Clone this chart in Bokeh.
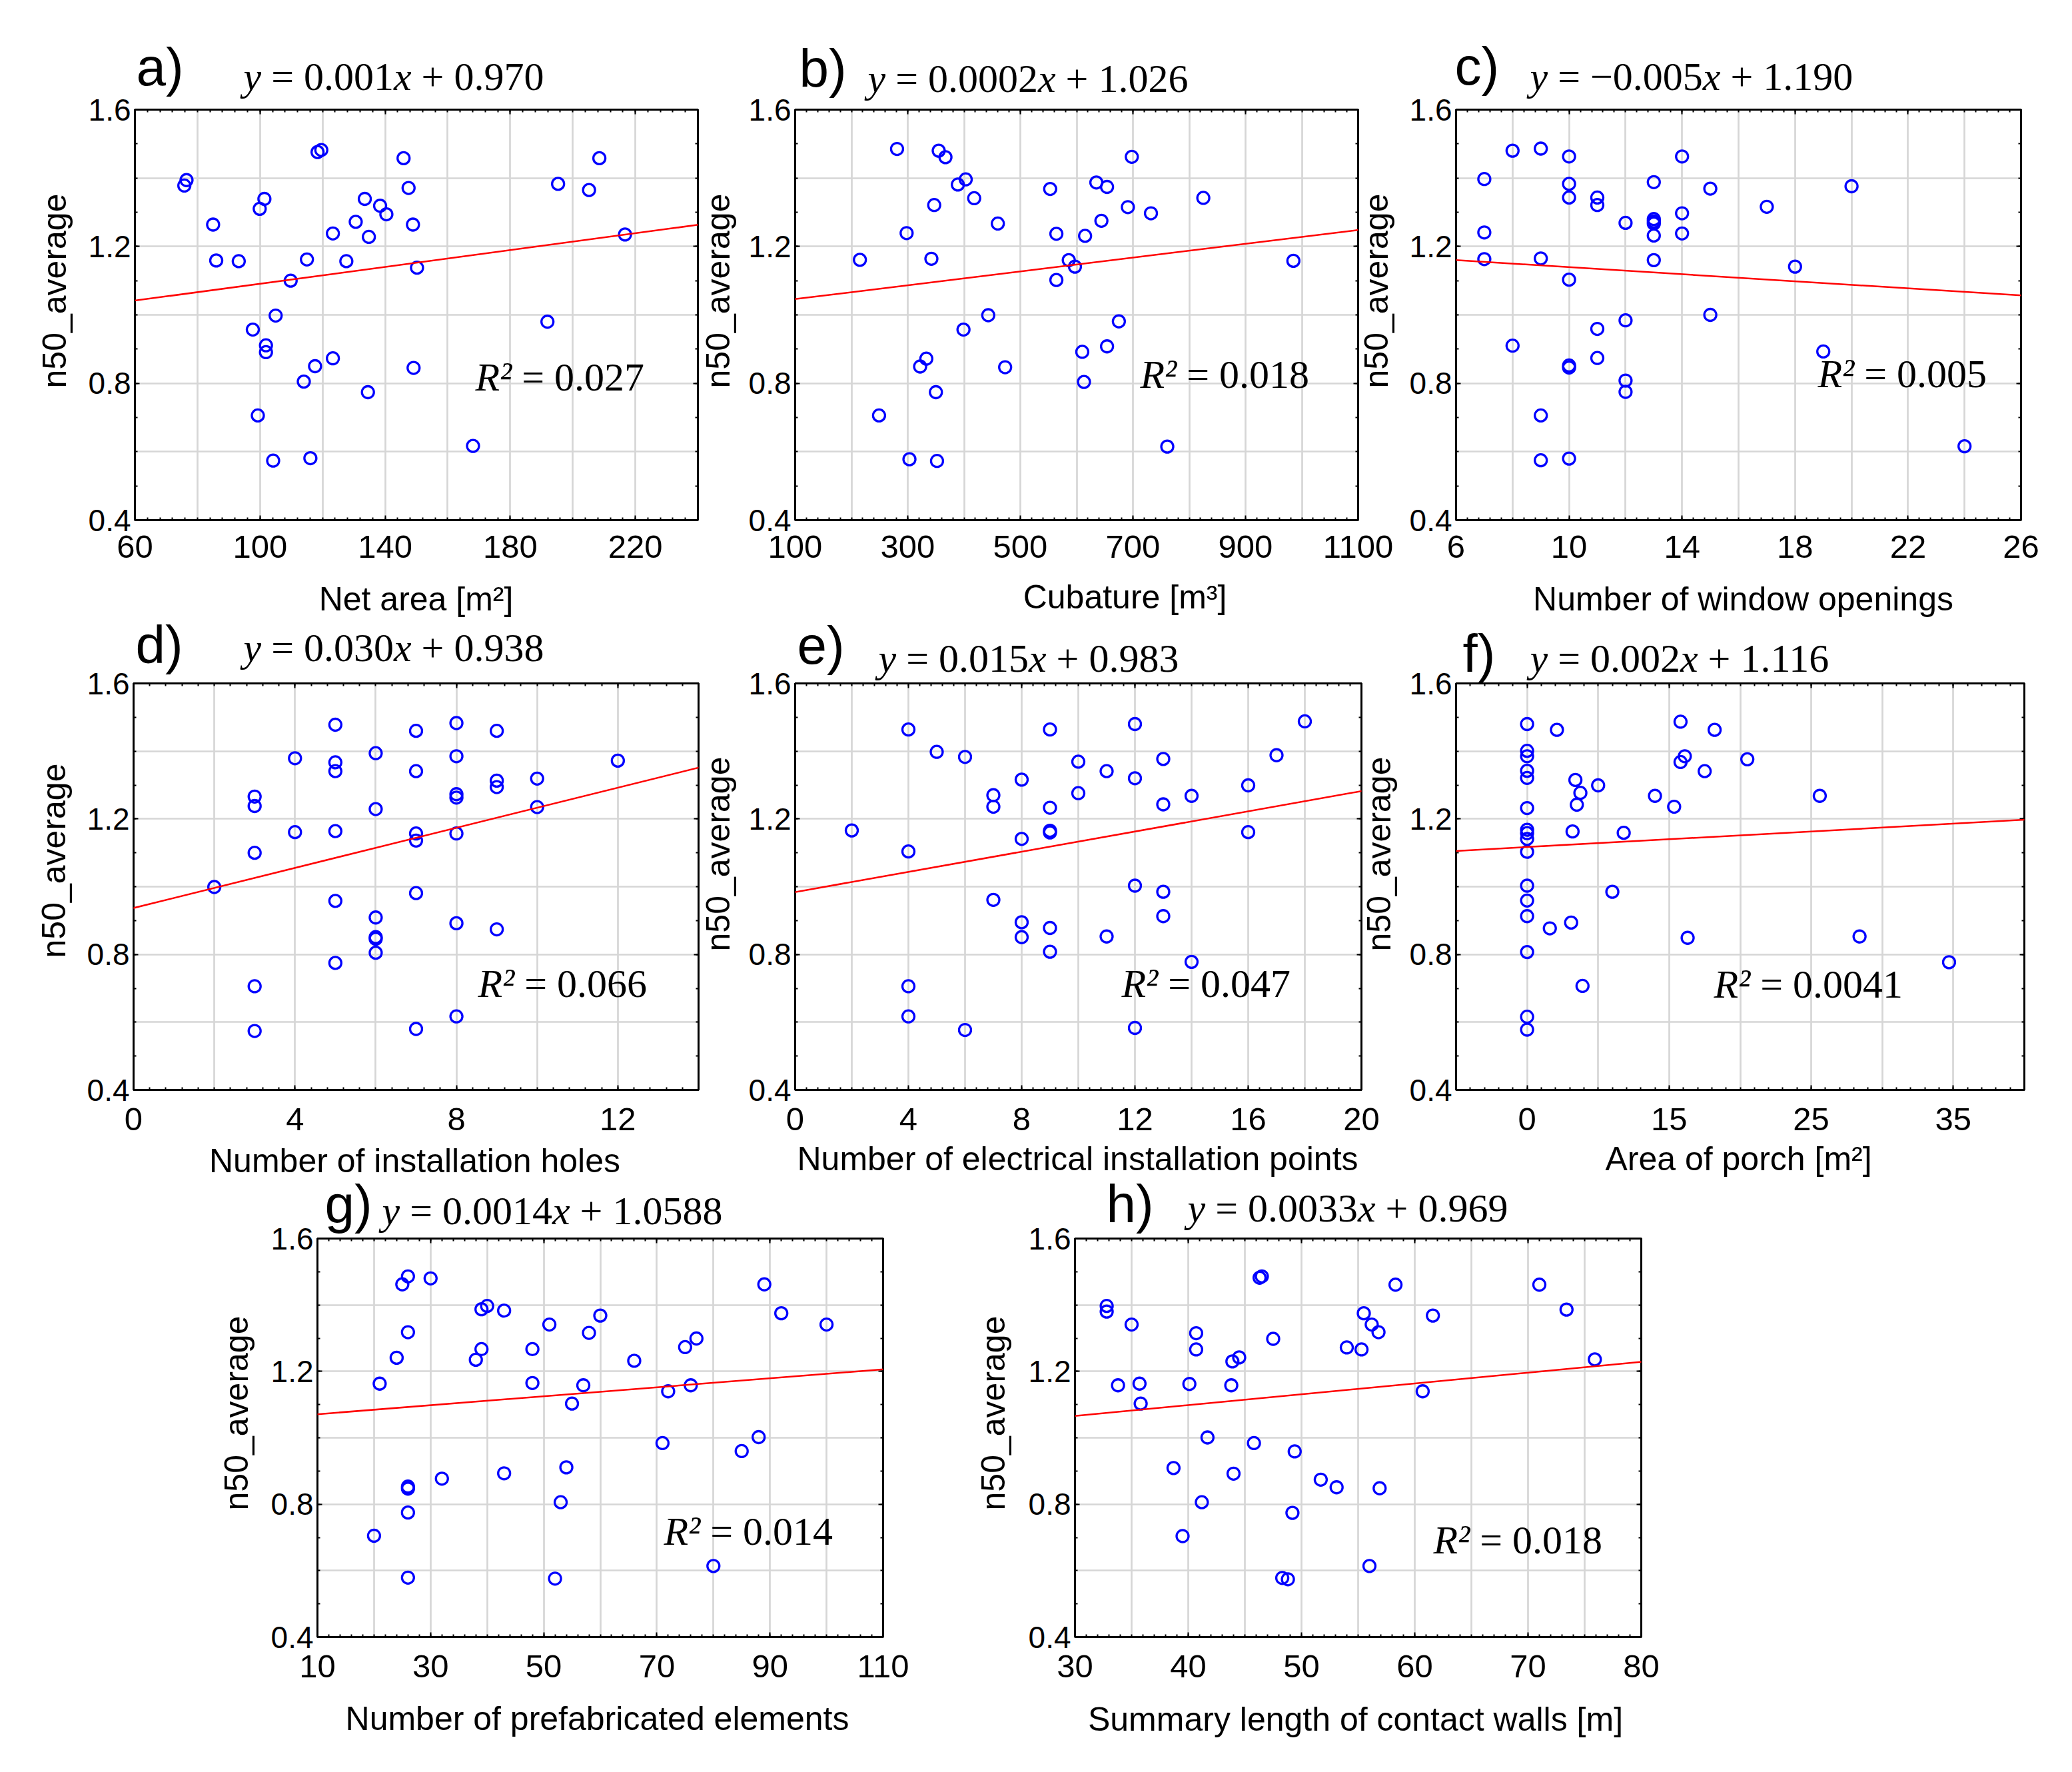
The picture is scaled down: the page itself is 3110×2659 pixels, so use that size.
import numpy as np
from bokeh.plotting import figure
from bokeh.models import Label, Slope, FixedTicker, LinearAxis, Range1d
from bokeh.layouts import row, column
from bokeh.embed import file_html
from bokeh.resources import INLINE

SANS = "Liberation Sans"
SERIF = "Liberation Serif"

# ---------------- data ----------------
y_ticks = [0.4, 0.8, 1.2, 1.6]
y_axis_label = "n50_average"

# a) net area
a_x = [75.8, 76.5, 85.0, 86.0, 93.2, 97.7, 99.9, 101.4, 101.9, 101.9, 99.3, 104.2, 105.0, 109.8,
       114.0, 115.0, 116.1, 117.6, 118.4, 119.6, 123.3, 123.3, 127.6, 130.6, 133.5, 134.8, 134.5,
       138.4, 140.4, 145.9, 147.5, 148.9, 149.1, 150.2, 168.1, 191.9, 195.3, 205.2, 208.5, 216.7]
a_y = [1.378, 1.394, 1.264, 1.159, 1.157, 0.957, 1.310, 1.339, 0.911, 0.891, 0.706, 0.574, 0.998,
       1.100, 0.805, 1.162, 0.581, 0.850, 1.476, 1.482, 1.238, 0.873, 1.157, 1.272, 1.339, 1.228,
       0.774, 1.319, 1.294, 1.458, 1.371, 1.264, 0.845, 1.138, 0.617, 0.980, 1.383, 1.365, 1.458, 1.235]
a_fit = [0.00123, 0.968]
a_eq = ["0.001", "0.970"]
a_r2 = "0.027"
a_xticks = [60, 100, 140, 180, 220]
a_xticklabels = ["60", "100", "140", "180", "220"]
a_xlabel = "Net area [m²]"

# b) cubature
b_x = [215, 249, 281, 298, 303, 322, 333, 342, 347, 350, 352, 355, 367, 389, 399, 403, 418, 443,
       460, 473, 553, 564, 564, 586, 597, 610, 613, 615, 635, 644, 654, 654, 675, 691, 698, 732,
       761, 825, 985]
b_y = [1.161, 0.706, 1.485, 1.239, 0.578, 0.849, 0.872, 1.164, 1.321, 0.774, 0.573, 1.480, 1.461,
       1.381, 0.957, 1.396, 1.341, 0.999, 1.267, 0.847, 1.368, 1.237, 1.102, 1.160, 1.141, 0.892,
       0.804, 1.231, 1.387, 1.275, 1.374, 0.908, 0.981, 1.315, 1.462, 1.297, 0.615, 1.342, 1.158]
b_fit = [0.000202, 1.026]
b_eq = ["0.0002", "1.026"]
b_r2 = "0.018"
b_xticks = [100, 300, 500, 700, 900, 1100]
b_xticklabels = ["100", "300", "500", "700", "900", "1100"]
b_xlabel = "Cubature [m³]"

# c) window openings
c_x = [7, 7, 7, 8, 8, 9, 9, 9, 9, 10, 10, 10, 10, 10, 10, 10, 11, 11, 11, 11, 12, 12, 12, 12,
       13, 13, 13, 13, 13, 13, 14, 14, 14, 15, 15, 17, 18, 19, 20, 24]
c_y = [1.397, 1.241, 1.163, 1.480, 0.910, 1.486, 1.165, 0.706, 0.575, 1.463, 1.383, 1.343, 1.103,
       0.852, 0.846, 0.580, 1.343, 1.321, 0.959, 0.874, 1.269, 0.984, 0.808, 0.775, 1.388, 1.280,
       1.273, 1.267, 1.232, 1.160, 1.463, 1.297, 1.238, 1.369, 1.000, 1.316, 1.141, 0.893, 1.376, 0.616]
c_fit = [-0.00515, 1.191]
c_eq = ["\u22120.005", "1.190"]
c_r2 = "0.005"
c_xticks = [6, 10, 14, 18, 22, 26]
c_xticklabels = ["6", "10", "14", "18", "22", "26"]
c_xlabel = "Number of window openings"

# d) installation holes
d_x = [2, 3, 3, 3, 3, 3, 4, 4, 5, 5, 5, 5, 5, 5, 6, 6, 6, 6, 6, 6, 7, 7, 7, 7, 7, 7,
       8, 8, 8, 8, 8, 8, 8, 9, 9, 9, 9, 10, 10, 12]
d_y = [0.999, 1.266, 1.238, 1.100, 0.706, 0.574, 1.379, 1.161, 1.478, 1.367, 1.341, 1.164, 0.958,
       0.775, 1.394, 1.229, 0.909, 0.851, 0.846, 0.805, 1.460, 1.341, 1.157, 1.136, 0.981, 0.580,
       1.483, 1.385, 1.273, 1.263, 1.157, 0.892, 0.617, 1.460, 1.313, 1.294, 0.874, 1.319, 1.235, 1.372]
d_fit = [0.0296, 0.937]
d_eq = ["0.030", "0.938"]
d_r2 = "0.066"
d_xticks = [0, 4, 8, 12]
d_xticklabels = ["0", "4", "8", "12"]
d_xlabel = "Number of installation holes"

# e) electrical installation points
e_x = [2, 4, 4, 4, 4, 5, 6, 6, 7, 7, 7, 8, 8, 8, 8, 9, 9, 9, 9, 9, 9, 10, 10, 11, 11,
       12, 12, 12, 12, 13, 13, 13, 13, 14, 14, 16, 16, 17, 18]
e_y = [1.166, 1.464, 1.104, 0.706, 0.617, 1.398, 1.383, 0.577, 1.270, 1.236, 0.961, 1.316, 1.141,
       0.895, 0.851, 1.464, 1.233, 1.165, 1.160, 0.878, 0.808, 1.369, 1.276, 1.341, 0.853, 1.480,
       1.320, 1.003, 0.583, 1.377, 1.243, 0.985, 0.913, 1.268, 0.778, 1.299, 1.161, 1.388, 1.488]
e_fit = [0.0149, 0.984]
e_eq = ["0.015", "0.983"]
e_r2 = "0.047"
e_xticks = [0, 4, 8, 12, 16, 20]
e_xticklabels = ["0", "4", "8", "12", "16", "20"]
e_xlabel = "Number of electrical installation points"

# f) area of porch
f_x = [0, 0, 0, 0, 0, 0, 0, 0, 0, 0, 0, 0, 0, 0, 0, 0,
       1.6, 2.1, 3.1, 3.2, 3.4, 3.5, 3.75, 3.9, 5.0, 6.0, 6.8, 9.0, 10.35, 10.8, 10.8, 11.1,
       11.3, 12.5, 13.2, 15.5, 20.6, 23.4, 29.7]
f_y = [1.480, 1.401, 1.385, 1.342, 1.321, 1.232, 1.168, 1.158, 1.141, 1.103, 1.003, 0.959, 0.913,
       0.807, 0.616, 0.578, 0.877, 1.463, 0.894, 1.163, 1.315, 1.242, 1.277, 0.707, 1.299, 0.985,
       1.159, 1.268, 1.236, 1.368, 1.487, 1.385, 0.849, 1.341, 1.463, 1.376, 1.268, 0.853, 0.777]
f_fit = [0.0023, 1.117]
f_eq = ["0.002", "1.116"]
f_r2 = "0.0041"
f_xticks = [0, 10, 20, 30]
f_xticklabels = ["0", "15", "25", "35"]
f_xlabel = "Area of porch [m²]"

# g) prefabricated elements
g_x = [20, 21, 24, 25, 26, 26, 26, 26, 26, 26, 30, 32, 38, 39, 39, 40, 43, 43, 48, 48,
       51, 52, 53, 54, 55, 57, 58, 60, 66, 71, 72, 75, 76, 77, 80, 85, 88, 89, 92, 100]
g_y = [0.705, 1.163, 1.241, 1.462, 1.486, 1.318, 0.853, 0.847, 0.775, 0.579, 1.480, 0.877, 1.235,
       1.387, 1.267, 1.397, 1.383, 0.893, 1.267, 1.165, 1.341, 0.576, 0.806, 0.911, 1.103, 1.158,
       1.316, 1.368, 1.232, 0.984, 1.140, 1.273, 1.158, 1.299, 0.614, 0.960, 1.002, 1.462, 1.375, 1.341]
g_fit = [0.00135, 1.0575]
g_eq = ["0.0014", "1.0588"]
g_r2 = "0.014"
g_xticks = [10, 30, 50, 70, 90, 110]
g_xticklabels = ["10", "30", "50", "70", "90", "110"]
g_xlabel = "Number of prefabricated elements"

# h) contact walls
h_x = [32.8, 32.8, 33.8, 35.0, 35.7, 35.8, 38.7, 39.5, 40.1, 40.7, 40.7, 41.2, 41.7, 43.8, 43.9,
       44.0, 44.5, 45.8, 46.3, 46.5, 47.5, 48.3, 48.8, 49.2, 49.4, 51.7, 53.1, 54.0, 55.3, 55.5,
       56.2, 56.0, 56.8, 56.9, 58.3, 60.7, 61.6, 71.0, 73.4, 75.9]
h_y = [1.397, 1.380, 1.158, 1.341, 1.163, 1.103, 0.909, 0.704, 1.162, 1.315, 1.266, 0.806, 1.001,
       1.158, 1.230, 0.892, 1.242, 0.984, 1.482, 1.486, 1.298, 0.578, 0.574, 0.774, 0.959, 0.874,
       0.851, 1.272, 1.266, 1.375, 1.341, 0.614, 1.318, 0.848, 1.461, 1.140, 1.368, 1.461, 1.386, 1.236]
h_fit = [0.00326, 0.968]
h_eq = ["0.0033", "0.969"]
h_r2 = "0.018"
h_xticks = [30, 40, 50, 60, 70, 80]
h_xticklabels = ["30", "40", "50", "60", "70", "80"]
h_xlabel = "Summary length of contact walls [m]"

# ---------------- styling / layout ----------------
# w/h/b*: figure size and borders (px); tagp/eqp/xlp: text baselines in page px;
# ylp: centre of the rotated y label in page px; r2p: baseline relative to the frame (px)
PANELS = [
    dict(tag="a)", x=a_x, y=a_y, fit=a_fit, eq=a_eq, r2=a_r2, xt=a_xticks, xtl=a_xticklabels,
         xl=a_xlabel, xr=(60, 240), grid=20, minor=4,
         w=1077, h=980, bl=202, br=30, bt=164, bb=200, xstand=23,
         tagp=(204, 128), eqp=(365, 135), xlp=(624, 916), ylp=(81, 436), r2p=(511, 194)),
    dict(tag="b)", x=b_x, y=b_y, fit=b_fit, eq=b_eq, r2=b_r2, xt=b_xticks, xtl=b_xticklabels,
         xl=b_xlabel, xr=(100, 1100), grid=100, minor=20,
         w=1070, h=980, bl=163, br=62, bt=164, bb=200, xstand=23,
         tagp=(1199, 130), eqp=(1302, 138), xlp=(1688, 913), ylp=(1077, 436), r2p=(518, 198)),
    dict(tag="c)", x=c_x, y=c_y, fit=c_fit, eq=c_eq, r2=c_r2, xt=c_xticks, xtl=c_xticklabels,
         xl=c_xlabel, xr=(6, 26), grid=2, minor=0.4,
         w=1060, h=980, bl=165, br=47, bt=164, bb=200, xstand=23,
         tagp=(2183, 127), eqp=(2296, 135), xlp=(2616, 916), ylp=(2065, 436), r2p=(543, 199)),
    dict(tag="d)", x=d_x, y=d_y, fit=d_fit, eq=d_eq, r2=d_r2, xt=d_xticks, xtl=d_xticklabels,
         xl=d_xlabel, xr=(0, 14), grid=2, minor=0.4,
         w=1077, h=907, bl=200, br=29, bt=95, bb=200, xstand=27,
         tagp=(203, 995), eqp=(365, 992), xlp=(622, 1759), ylp=(80, 1291), r2p=(517, 139)),
    dict(tag="e)", x=e_x, y=e_y, fit=e_fit, eq=e_eq, r2=e_r2, xt=e_xticks, xtl=e_xticklabels,
         xl=e_xlabel, xr=(0, 20), grid=2, minor=0.4,
         w=1070, h=907, bl=163, br=57, bt=95, bb=200, xstand=27,
         tagp=(1196, 996), eqp=(1318, 1008), xlp=(1617, 1756), ylp=(1077, 1281), r2p=(490, 139)),
    dict(tag="f)", x=f_x, y=f_y, fit=f_fit, eq=f_eq, r2=f_r2, xt=f_xticks, xtl=f_xticklabels,
         xl=f_xlabel, xr=(-5, 35), grid=5, minor=1,
         w=1060, h=907, bl=165, br=42, bt=95, bb=202, xstand=27,
         tagp=(2195, 1008), eqp=(2296, 1008), xlp=(2609, 1756), ylp=(2069, 1281), r2p=(387, 138)),
    dict(tag="g)", x=g_x, y=g_y, fit=g_fit, eq=g_eq, r2=g_r2, xt=g_xticks, xtl=g_xticklabels,
         xl=g_xlabel, xr=(10, 110), grid=10, minor=2,
         w=1120, h=870, bl=176, br=95, bt=78, bb=182, xstand=27,
         tagp=(487, 1834), eqp=(573, 1837), xlp=(896, 2596), ylp=(354, 2120), r2p=(520, 138)),
    dict(tag="h)", x=h_x, y=h_y, fit=h_fit, eq=h_eq, r2=h_r2, xt=h_xticks, xtl=h_xticklabels,
         xl=h_xlabel, xr=(30, 80), grid=5, minor=1,
         w=1093, h=870, bl=193, br=50, bt=80, bb=192, xstand=27,
         tagp=(1660, 1834), eqp=(1782, 1833), xlp=(2034, 2597), ylp=(1490, 2120), r2p=(538, 125)),
]

XTICK_PX = 49
YTICK_PX = 46
AXLAB_PX = 50
EQ_PX = 60
TAG_PX = 80
PAGE_W, PAGE_H = 3100, 2650
K_MID = 0.345   # distance from text-box centre down to the alphabetic baseline, in em

UP_W = {c: 0.5 for c in "0123456789"}
UP_W.update({".": 0.25, " ": 0.25, "=": 0.564, "+": 0.564, "\u2212": 0.564, "\u00b2": 0.3})
IT_W = {"y": 0.444, "x": 0.444, "R": 0.611, "\u00b2": 0.3, " ": 0.25}


def run_width(txt, italic):
    tab = IT_W if italic else UP_W
    return sum(tab.get(ch, 0.5) for ch in txt)


def put_runs(p, x0, y0, runs, size, units):
    off = 0.0
    for txt, italic in runs:
        lead = len(txt) - len(txt.lstrip(" "))
        off += 0.25 * size * lead
        body = txt.lstrip(" ")
        p.add_layout(Label(x=x0 + off, y=y0, x_units=units, y_units=units, text=body,
                           text_font=SERIF, text_font_style="italic" if italic else "normal",
                           text_font_size=f"{size}px", text_color="black",
                           text_align="left", text_baseline="alphabetic"))
        off += run_width(body, italic) * size


def style_axis(ax, ticker, font_px=None):
    ax.ticker = ticker
    ax.axis_line_color = "black"
    ax.axis_line_width = 3
    ax.major_tick_in = 7
    ax.major_tick_out = 0
    ax.minor_tick_in = 4
    ax.minor_tick_out = 0
    ax.major_tick_line_color = "black"
    ax.minor_tick_line_color = "black"
    ax.major_tick_line_width = 2
    ax.minor_tick_line_width = 2
    if font_px:
        ax.major_label_text_font = SANS
        ax.major_label_text_font_size = f"{font_px}px"
        ax.major_label_text_color = "black"
    else:
        ax.major_label_text_font_size = "0px"
        ax.major_label_text_alpha = 0
        ax.major_label_standoff = 0


def build(cfg):
    x0, x1 = cfg["xr"]
    p = figure(width=cfg["w"], height=cfg["h"], x_range=Range1d(x0, x1), y_range=Range1d(0.4, 1.6),
               output_backend="svg", toolbar_location=None,
               min_border_left=cfg["bl"], min_border_right=cfg["br"],
               min_border_top=cfg["bt"], min_border_bottom=cfg["bb"])
    p.border_fill_color = None
    p.background_fill_color = "white"
    p.outline_line_color = "black"
    p.outline_line_width = 3

    x_minor = list(np.arange(x0, x1 + 1e-9, cfg["minor"]))
    xt = FixedTicker(ticks=cfg["xt"], minor_ticks=x_minor)
    yt = FixedTicker(ticks=y_ticks, minor_ticks=list(np.round(np.arange(0.4, 1.6001, 0.1), 2)))

    xa = p.xaxis[0]
    ya = p.yaxis[0]
    style_axis(xa, xt, XTICK_PX)
    style_axis(ya, yt, YTICK_PX)
    xa.major_label_overrides = {t: l for t, l in zip(cfg["xt"], cfg["xtl"])}
    xa.major_label_standoff = cfg["xstand"]
    ya.major_label_standoff = 6

    ra = LinearAxis()
    style_axis(ra, yt)
    p.add_layout(ra, "right")
    ta = LinearAxis()
    style_axis(ta, xt)
    p.add_layout(ta, "above")

    p.xgrid[0].ticker = FixedTicker(ticks=list(np.arange(x0, x1 + 1e-9, cfg["grid"])))
    p.ygrid[0].ticker = FixedTicker(ticks=list(np.round(np.arange(0.4, 1.6001, 0.2), 2)))
    for g in (p.xgrid[0], p.ygrid[0]):
        g.grid_line_color = "#d6d6d6"
        g.grid_line_width = 2.7

    p.add_layout(Slope(gradient=cfg["fit"][0], y_intercept=cfg["fit"][1],
                       line_color="#ff0000", line_width=2.5))
    p.scatter(cfg["x"], cfg["y"], marker="circle", size=18, fill_color=None,
              line_color="#0000ff", line_width=3.3)

    # screen units: y measured upward from the frame bottom
    rx, ry = cfg["r2p"]
    put_runs(p, rx, ry + K_MID * EQ_PX, [("R\u00b2", True), (" = " + cfg["r2"], False)],
             EQ_PX, "screen")
    return p


# overlay figure: carries the texts that sit outside the plot frames (page pixel coordinates)
ov = figure(width=PAGE_W, height=PAGE_H, x_range=Range1d(0, PAGE_W), y_range=Range1d(PAGE_H, 0),
            output_backend="svg", toolbar_location=None, title=None,
            x_axis_location=None, y_axis_location=None, min_border=0)
ov.grid.visible = False
ov.outline_line_color = None
ov.background_fill_color = None
ov.border_fill_color = None

for cfg in PANELS:
    tx, ty = cfg["tagp"]
    ov.add_layout(Label(x=tx, y=ty - K_MID * TAG_PX, text=cfg["tag"], text_font=SANS,
                        text_font_size=f"{TAG_PX}px", text_color="black",
                        text_align="left", text_baseline="alphabetic"))
    ex, ey = cfg["eqp"]
    put_runs(ov, ex, ey - K_MID * EQ_PX, [("y", True), (" = " + cfg["eq"][0], False), ("x", True),
                                          (" + " + cfg["eq"][1], False)], EQ_PX, "data")
    lx, ly = cfg["xlp"]
    ov.add_layout(Label(x=lx, y=ly - K_MID * AXLAB_PX, text=cfg["xl"], text_font=SANS,
                        text_font_size=f"{AXLAB_PX}px", text_color="black",
                        text_align="center", text_baseline="alphabetic"))
    vx, vy = cfg["ylp"]
    ov.add_layout(Label(x=vx, y=vy, text=y_axis_label, text_font=SANS, angle=np.pi / 2,
                        text_font_size=f"{AXLAB_PX}px", text_color="black",
                        text_align="center", text_baseline="middle"))

figs = [build(c) for c in PANELS]
pa, pb, pc, pd, pe, pf, pg, ph = figs
pb.margin = (0, 0, 0, -47)
pc.margin = (0, 0, 0, -80)
pe.margin = (0, 0, 0, -47)
pf.margin = (0, 0, 0, -80)
pg.margin = (0, 0, 0, 300)

r1 = row(pa, pb, pc)
r2 = row(pd, pe, pf)
r3 = row(pg, ph)
r1.margin = (-PAGE_H, 0, 0, 0)
r2.margin = (-50, 0, 0, 0)
r3.margin = (-59, 0, 0, 0)

layout = column(ov, r1, r2, r3)

open("out.html", "w").write(file_html(layout, INLINE))
